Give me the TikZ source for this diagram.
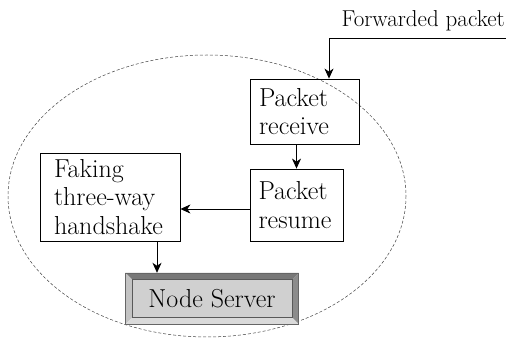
\documentclass[tikz,border=0pt]{standalone}
\usetikzlibrary{arrows.meta,positioning,calc}
\definecolor{facegray}{RGB}{208,208,208}
\definecolor{bevtop}{RGB}{120,120,120}
\definecolor{bevleft}{RGB}{195,195,195}
\definecolor{bevright}{RGB}{140,140,140}
\definecolor{bevbot}{RGB}{218,218,218}
\def\bevel{6.5}
\tikzset{
  stepbox/.style  = {rectangle, draw=black, line width=0.8pt, align=left,
                     font=\fontsize{26}{28.5}\selectfont, inner ysep=0pt},
  srvbox/.style   = {rectangle, minimum width=173pt, minimum height=51pt,
                     inner sep=0pt},
  conn/.style     = {-{Stealth[length=10pt,width=9pt,inset=3pt]}, line width=0.8pt},
  boundary/.style = {draw=black!75, line width=0.5pt, dash pattern=on 3pt off 2pt},
  plain/.style    = {font=\fontsize{23}{28}\selectfont, inner sep=0pt}
}

\begin{document}
\begin{tikzpicture}[x=1pt,y=-1pt]
\useasboundingbox (0,0) rectangle (506,339);

% node boundary
\draw[boundary] (207,196) ellipse [x radius=199, y radius=141];

% -------------------- Nodes --------------------
\node[plain, anchor=base east] (fwd) at (505,27) {Forwarded packet};
\coordinate (fwdin) at (506,38);

\node[stepbox, text width=91pt, inner xsep=9pt, minimum height=65pt]
  (recv) at (304.5,111.5) {Packet\\receive};
\node[stepbox, text width=76pt, inner xsep=8.5pt, minimum height=72pt]
  (resume) at (296.5,205) {Packet\\resume};
\node[stepbox, text width=112pt, inner xsep=14pt, minimum height=88pt]
  (fake) at (110,197) {Faking\\three-way\\handshake};

% server with bevelled frame
\node[srvbox] (server) at (212,298.5) {};
\coordinate (inNW) at ($(server.north west)+(\bevel,\bevel)$);
\coordinate (inNE) at ($(server.north east)+(-\bevel,\bevel)$);
\coordinate (inSW) at ($(server.south west)+(\bevel,-\bevel)$);
\coordinate (inSE) at ($(server.south east)+(-\bevel,-\bevel)$);
\fill[bevtop]   (server.north west) -- (server.north east) -- (inNE) -- (inNW) -- cycle;
\fill[bevleft]  (server.north west) -- (inNW) -- (inSW) -- (server.south west) -- cycle;
\fill[bevright] (server.north east) -- (server.south east) -- (inSE) -- (inNE) -- cycle;
\fill[bevbot]   (server.south west) -- (inSW) -- (inSE) -- (server.south east) -- cycle;
\draw[fill=facegray, line width=0.5pt, draw=black!65] (inNW) rectangle (inSE);
\draw[line width=0.6pt, draw=black!60] (server.north west) rectangle (server.south east);
\node[stepbox, draw=none, font=\fontsize{26}{28}\selectfont] (srvtext) at (server.center) {Node Server};

% -------------------- Connections --------------------
\draw[conn] (fwdin) -| ([xshift=24.5pt]recv.north);
\draw[conn] (recv.south -| resume.north) -- (resume.north);
\draw[conn] ([yshift=-4pt]resume.west) -- ([yshift=-4pt]resume.west -| fake.east);
\draw[conn] ([xshift=47pt]fake.south) -- ([xshift=47pt]fake.south |- server.north);

\end{tikzpicture}
\end{document}
